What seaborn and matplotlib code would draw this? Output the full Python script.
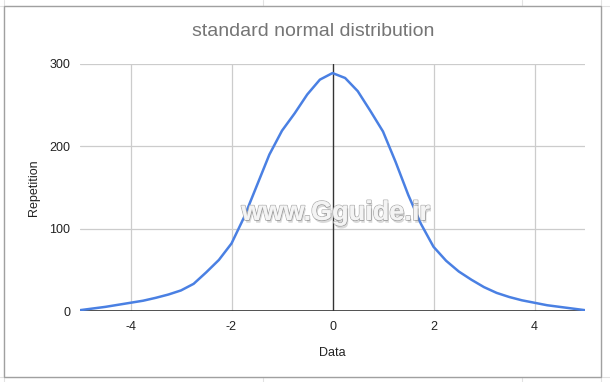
import numpy as np
import pandas as pd
import seaborn as sns
import matplotlib.pyplot as plt
from matplotlib.patches import Rectangle
import matplotlib.patheffects as pe

sns.set_theme()
sns.set_style("white")
plt.rcParams['font.family'] = ['Liberation Sans', 'DejaVu Sans']

# values
data_x = [-5, -4.75, -4.5, -4.25, -4, -3.75, -3.5, -3.25, -3, -2.75, -2.5, -2.25,
          -2, -1.75, -1.5, -1.25, -1, -0.75, -0.5, -0.25, 0, 0.25, 0.5, 0.75,
          1, 1.25, 1.5, 1.75, 2, 2.25, 2.5, 2.75, 3, 3.25, 3.5, 3.75, 4, 4.25,
          4.5, 4.75, 5]
repetition = [1, 3, 5, 7.5, 10, 12.5, 16, 20, 25, 33, 47, 62,
              82, 114, 152, 190, 219, 240, 263, 281, 289, 283, 267, 243,
              218, 181, 141, 106, 78, 61, 48, 38, 29, 22, 17, 13, 10, 7,
              5, 3, 1]
xticks = [-4, -2, 0, 2, 4]
yticks = [0, 100, 200, 300]

df = pd.DataFrame({"Data": data_x, "Repetition": repetition})

fig = plt.figure(figsize=(6.1, 3.82), dpi=100)
ax = fig.add_axes([80/610, 1-311/382, 505/610, 247/382])
ax.set_zorder(2)

# spreadsheet cell lines behind the chart
for xx in [4, 263, 522, 601]:
    fig.add_artist(plt.Line2D([xx/610, xx/610], [0, 1], color='#e2e2e2', lw=0.8, zorder=-2))
for yy in [6, 377]:
    fig.add_artist(plt.Line2D([0, 1], [1-yy/382, 1-yy/382], color='#e2e2e2', lw=0.8, zorder=-2))
fig.add_artist(Rectangle((4/610, 5/382), 597/610, 371/382, transform=fig.transFigure,
                         facecolor='white', edgecolor='#a0a0a0', lw=1.0, zorder=-1))

for v in xticks:
    if v != 0:
        ax.axvline(v, color='#cccccc', lw=0.9, zorder=1)
for v in yticks[1:]:
    ax.axhline(v, color='#cccccc', lw=0.9, zorder=1)
ax.axvline(0, color='#333333', lw=1.0, zorder=2)
ax.axhline(0, color='#333333', lw=1.2, zorder=2)

sns.lineplot(data=df, x="Data", y="Repetition", color='#4a80e3', linewidth=1.8, ax=ax,
             zorder=3, solid_joinstyle='round')

ax.set_xlim(-5, 5)
ax.set_ylim(0, 300)
ax.set_xticks(xticks)
ax.set_yticks(yticks)
ax.set_xticklabels([str(v) for v in xticks])
ax.tick_params(axis='both', length=0, labelsize=9, colors='#222222', pad=7)
for s in ax.spines.values():
    s.set_visible(False)
ax.patch.set_alpha(0)
ax.set_xlabel("Data", fontsize=9, color='#222222', labelpad=10)
ax.set_ylabel("Repetition", fontsize=9, color='#222222', labelpad=7)

fig.text(313/610, 1-32/382, "standard normal distribution", ha='center', va='center',
         fontsize=14, color='#757575')

fig.text(336/610, 1-213/382, "www.Gguide.ir", ha='center', va='center', fontsize=19.5,
         fontweight='bold', color='#f4f4f4', zorder=5,
         path_effects=[pe.withStroke(linewidth=1.2, foreground='#b0b0b0'),
                       pe.SimplePatchShadow(offset=(1, -2), alpha=0.2), pe.Normal()])

fig.savefig("out.png", dpi=100)
